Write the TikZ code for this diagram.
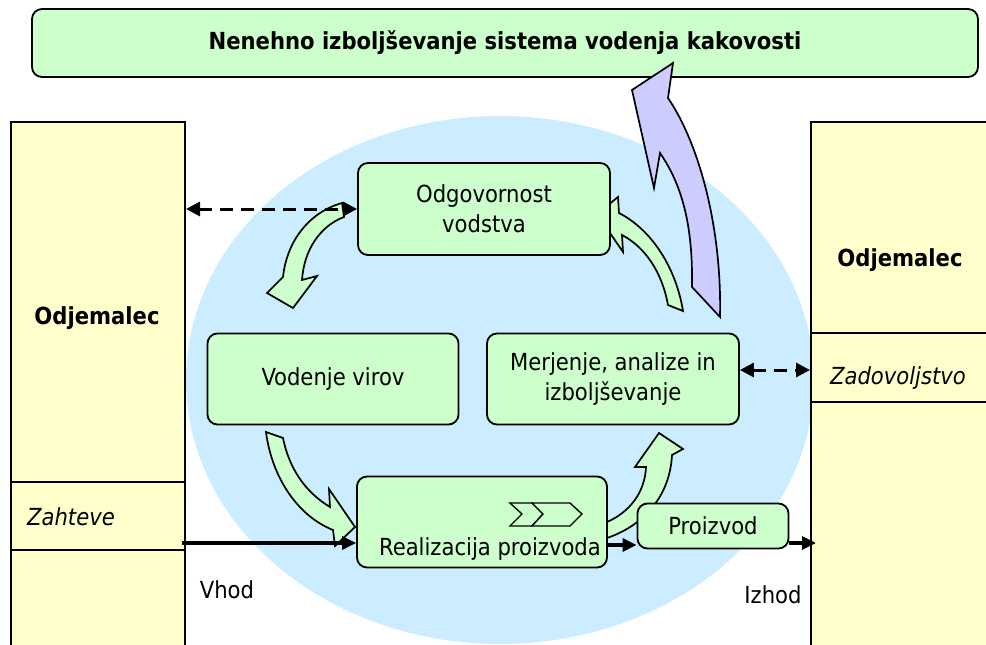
\documentclass[tikz,border=0pt]{standalone}
\usepackage{fontspec}
\setmainfont{DejaVu Sans Condensed}
\usetikzlibrary{arrows.meta}
\definecolor{boxgreen}{HTML}{CCFFCC}
\definecolor{ellblue}{HTML}{CCECFF}
\definecolor{colyellow}{HTML}{FFFFCC}
\definecolor{arrpurple}{HTML}{CCCCFF}
\begin{document}
\begin{tikzpicture}[x=1pt,y=-1pt,
  gbox/.style={draw=black, line width=1.8pt, fill=boxgreen, rounded corners=10pt, align=center, inner sep=0pt, font=\fontsize{23.5}{30}\selectfont},
  colbox/.style={draw=black, line width=2pt, fill=colyellow, anchor=north west, inner sep=0pt},
  blockarrow/.style={draw=black, line width=1.7pt, fill=boxgreen, line join=miter},
  bigarrow/.style={draw=black, line width=1.7pt, fill=arrpurple, line join=miter},
  dasharrow/.style={line width=3pt, dash pattern=on 13pt off 8pt, {Triangle[length=14pt,width=14pt]}-{Triangle[length=14pt,width=14pt]}},
  flowarrow/.style={line width=3.2pt, -{Triangle[length=14pt,width=13pt]}},
  lbl/.style={font=\fontsize{23.5}{28}\selectfont, inner sep=0pt},
  boldlbl/.style={font=\fontsize{23.5}{28}\selectfont\bfseries, inner sep=0pt},
  itlbl/.style={font=\fontsize{23.5}{28}\selectfont\itshape, inner sep=0pt}]
\useasboundingbox (0,0) rectangle (986,645);
% background ellipse
\fill[ellblue] (500,380) ellipse [x radius=314, y radius=264];
% columns
\node[colbox, minimum width=174, minimum height=560] (lcol) at (10,121) {};
\node[colbox, minimum width=200, minimum height=560] (rcol) at (810,121) {};
\draw[line width=2pt] (10,482) -- (184,482) (10,550) -- (184,550);
\draw[line width=2pt] (810,333) -- (986,333) (810,402) -- (986,402);
\node[boldlbl] (lodj) at (97,318) {Odjemalec};
\node[itlbl] (zaht) at (71,517) {Zahteve};
\node[boldlbl] (rodj) at (900,260) {Odjemalec};
\node[itlbl] (zadov) at (898,378) {Zadovoljstvo};
% banner
\node[gbox, minimum width=946, minimum height=68, font=\fontsize{23.5}{28}\selectfont\bfseries] (banner) at (505,43) {Nenehno izboljševanje sistema vodenja kakovosti};
% green block arrows
\draw[blockarrow] (342,203) .. controls (310,212) and (287,240) .. (283,277) -- (267,293) -- (293,308) -- (317,276) -- (302,280) .. controls (304,250) and (320,226) .. (344,217) -- cycle;
\draw[blockarrow] (266,432) -- (283,438) .. controls (289,468) and (305,492) .. (330,507) -- (329,489) -- (355,527) -- (335,546) -- (333,530) .. controls (298,516) and (272,478) .. cycle;
\draw[blockarrow] (607,522) .. controls (630,512) and (645,492) .. (646,467) -- (635,467) -- (659,433) -- (683,449) -- (672,455) .. controls (670,495) and (645,525) .. (607,538) -- cycle;
\draw[blockarrow] (597,214) -- (618,197) -- (619,213) .. controls (652,230) and (676,268) .. (683,311) -- (668,305) .. controls (662,272) and (645,247) .. (622,235) -- (623,252) -- cycle;
% boxes
\node[gbox, minimum width=252, minimum height=92] (odg) at (484,209) {Odgovornost\\vodstva};
\node[gbox, minimum width=251, minimum height=91] (vod) at (333,379) {Vodenje virov};
\node[gbox, minimum width=252, minimum height=91] (mer) at (613,379) {Merjenje, analize in\\izboljševanje};
\node[gbox, minimum width=250, minimum height=91] (real) at (482,522) {};
\node[lbl] (realtxt) at (490,549) {Realizacija proizvoda};
\node[gbox, minimum width=151, minimum height=45] (proiz) at (713,526) {Proizvod};
% chevrons
\draw[fill=boxgreen, line width=1.4pt] (510,503) -- (532,503) -- (543,514) -- (532,526) -- (510,526) -- (522,514) -- cycle;
\draw[fill=boxgreen, line width=1.4pt] (532,503) -- (570,503) -- (582,514) -- (570,526) -- (532,526) -- (543,514) -- cycle;
% purple arrow
\draw[bigarrow] (673,63) -- (668,98) .. controls (700,145) and (722,230) .. (720,317) -- (692,287) .. controls (693,225) and (682,185) .. (660,153) -- (654,188) -- (632,90) -- cycle;
% connectors
\draw[dasharrow] (lcol.east |- odg.west) -- (odg.west);
\draw[dasharrow] (mer.east |- 0,370) -- (rcol.west |- 0,370);
\draw[flowarrow] (lcol.east |- 0,543) ++(-4,0) -- (real.west |- 0,543);
\draw[flowarrow] (real.east |- 0,545) -- (proiz.west |- 0,545);
\draw[flowarrow] (proiz.east |- 0,543) -- ([xshift=6pt]rcol.west |- 0,543);
\node[lbl] (vhod) at (227,590) {Vhod};
\node[lbl] (izhod) at (773,595) {Izhod};
\end{tikzpicture}
\end{document}
